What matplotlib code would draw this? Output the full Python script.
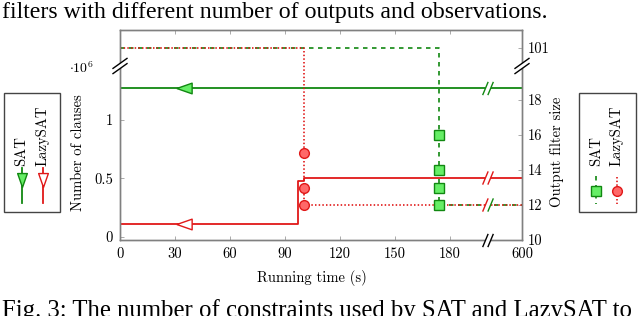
import numpy as np
import matplotlib
matplotlib.use("Agg")
import matplotlib.pyplot as plt
from matplotlib.lines import Line2D
from matplotlib.patches import Rectangle, Polygon

plt.rcParams['font.family'] = 'cmr10'
plt.rcParams['mathtext.fontset'] = 'cm'
plt.rcParams['axes.unicode_minus'] = False

# data: running time (s), number of clauses (x1e6), output filter size
sat_clause_t = [0, 174, 174, 600]
sat_clause_v = [1.27, 1.27, 1.276, 1.276]
lazy_clause_t = [0, 97, 97, 100.5, 100.5, 600]
lazy_clause_v = [0.108, 0.108, 0.48, 0.48, 0.505, 0.505]

sat_filter_t = [0, 173.8, 173.8, 173.8, 173.8, 173.8, 600]
sat_filter_v = [101, 101, 16, 14, 13, 12, 12]
sat_mark_v = [16, 14, 13, 12]
lazy_filter_t = [0, 100.5, 100.5, 100.5, 100.5, 600]
lazy_filter_v = [101, 101, 15, 13, 12, 12]
lazy_mark_v = [15, 13, 12]

x_ticks = [0, 30, 60, 90, 120, 150, 180, 600]
left_ticks = [0, 0.5, 1]
left_labels = ["0", "0.5", "1"]
right_ticks = [10, 12, 14, 16, 18, 101]

green = "#118811"
green_fill = "#66ee66"
red = "#e01818"
red_fill = "#ff6868"
grey = "#808080"
fs = 10.5

W, H = 640, 316
def fx(x):
    return x / W
def fy(y):
    return 1 - y / H

# broken x axis: 600 s drawn at 219.3
def xmap(t):
    t = np.asarray(t, float)
    return np.where(t <= 200, t, 200 + (t - 200) * 19.3 / 400)

# broken right axis: 101 drawn at 21
def ymap(v):
    v = np.asarray(v, float)
    return np.where(v > 50, v - 80, v)

fig = plt.figure(figsize=(6.4, 3.16), dpi=100)
ax = fig.add_axes([fx(120), fy(240), (522 - 120) / W, (240 - 30) / H])
ax2 = ax.twinx()

ax.set_xlim(0, 219.3)
ax.set_ylim(-0.0256, 1.769)
ax2.set_ylim(10, 22)

# clauses (left axis)
ax.plot(xmap(sat_clause_t), sat_clause_v, color=green, lw=1.3)
ax.plot(xmap(lazy_clause_t), lazy_clause_v, color=red, lw=1.3)
tri_left = [(-1, 0), (1, 0.7), (1, -0.7), (-1, 0)]
ax.plot([35], [np.interp(35, sat_clause_t, sat_clause_v)], marker=tri_left, ms=11,
        mfc=green_fill, mec=green, mew=1.0, ls="none")
ax.plot([35], [np.interp(35, lazy_clause_t, lazy_clause_v)], marker=tri_left, ms=11,
        mfc="white", mec=red, mew=1.0, ls="none")

# output filter size (right axis)
ax2.plot(xmap(sat_filter_t), ymap(sat_filter_v), color=green, lw=1.2, dashes=(2.7, 2.7))
ax2.plot(xmap(lazy_filter_t), ymap(lazy_filter_v), color=red, lw=1.2, dashes=(0.9, 1.3))
ax2.plot(xmap([173.8] * len(sat_mark_v)), sat_mark_v, marker="s", ms=7, ls="none",
         mfc=green_fill, mec=green, mew=1.0)
ax2.plot(xmap([100.5] * len(lazy_mark_v)), lazy_mark_v, marker="o", ms=7, ls="none",
         mfc=red_fill, mec=red, mew=1.0)

ax.set_xticks(xmap(x_ticks))
ax.set_xticklabels([str(t) for t in x_ticks])
ax.set_yticks(left_ticks)
ax.set_yticklabels(left_labels)
ax2.set_yticks(ymap(right_ticks))
ax2.set_yticklabels([str(t) for t in right_ticks])

for a in (ax, ax2):
    for s in a.spines.values():
        s.set_color(grey)
        s.set_linewidth(1.0)
ax.tick_params(direction="in", length=3, width=0.7, color="#aaaaaa", labelsize=fs,
               top=True, right=False, pad=5)
ax.tick_params(axis="x", pad=5)
ax2.tick_params(direction="in", length=3, width=0.7, color="#aaaaaa", labelsize=fs, pad=4)

fig.text(fx(78), fy(153), "Number of clauses", rotation=90, ha="center", va="center", fontsize=fs)
fig.text(fx(557), fy(152), "Output filter size", rotation=90, ha="center", va="center", fontsize=fs)
fig.text(fx(312), fy(278), "Running time (s)", ha="center", va="center", fontsize=fs)
fig.text(fx(69), fy(68), r"$\cdot10^{6}$", ha="left", va="center", fontsize=10)


def brk(x, y, color, steep=True, color2=None):
    # two parallel slashes with a white gap, in image pixels
    if steep:
        a, b, d = 2.5, 6, (2.6, 0)
    else:
        a, b, d = 7, 5, (0, 2.6)
    p1 = [(x - a - d[0], y + b - d[1]), (x + a - d[0], y - b - d[1])]
    p2 = [(x - a + d[0], y + b + d[1]), (x + a + d[0], y - b + d[1])]
    poly = Polygon([(fx(px), fy(py)) for px, py in [p1[0], p1[1], p2[1], p2[0]]],
                   closed=True, fc="white", ec="none", transform=fig.transFigure, zorder=10)
    fig.add_artist(poly)
    for p, c in ((p1, color), (p2, color2 or color)):
        fig.add_artist(Line2D([fx(p[0][0]), fx(p[1][0])], [fy(p[0][1]), fy(p[1][1])],
                              color=c, lw=1.0, transform=fig.transFigure, zorder=11))


brk(488, 88.5, green)
brk(488, 178, red)
brk(488, 205, red, color2=green)
brk(488, 240.5, "black")
brk(120, 66, "black", steep=False)
brk(522, 66, "black", steep=False)

# left legend (rotated)
fig.add_artist(Rectangle((fx(4), fy(212)), 56 / W, (212 - 93) / H, fill=False,
                         ec="#444444", lw=1.0, transform=fig.transFigure))
tri_down = [(0, -1), (0.7, 1), (-0.7, 1), (0, -1)]
for xp, lab, c, fc in ((21.7, "SAT", green, green_fill), (42.7, "LazySAT", red, "white")):
    fig.text(fx(xp), fy(166), lab, rotation=90, ha="center", va="bottom", fontsize=fs)
    fig.add_artist(Line2D([fx(xp), fx(xp)], [fy(168), fy(203)], color=c, lw=1.3,
                          transform=fig.transFigure))
    fig.add_artist(Line2D([fx(xp)], [fy(180)], marker=tri_down, ms=10, mfc=fc, mec=c,
                          mew=1.0, ls="none", transform=fig.transFigure))

# right legend (rotated)
fig.add_artist(Rectangle((fx(579), fy(212)), 57 / W, (212 - 93) / H, fill=False,
                         ec="#444444", lw=1.0, transform=fig.transFigure))
fig.text(fx(596), fy(166), "SAT", rotation=90, ha="center", va="bottom", fontsize=fs)
fig.text(fx(617), fy(166), "LazySAT", rotation=90, ha="center", va="bottom", fontsize=fs)
fig.add_artist(Line2D([fx(596), fx(596)], [fy(176), fy(204)], color=green, lw=1.2,
                      dashes=(2.7, 2.7), transform=fig.transFigure))
fig.add_artist(Line2D([fx(596)], [fy(191)], marker="s", ms=7, mfc=green_fill, mec=green,
                      mew=1.0, ls="none", transform=fig.transFigure))
fig.add_artist(Line2D([fx(617), fx(617)], [fy(177), fy(204)], color=red, lw=1.2,
                      dashes=(0.9, 1.3), transform=fig.transFigure))
fig.add_artist(Line2D([fx(617)], [fy(190.5)], marker="o", ms=7, mfc=red_fill, mec=red,
                      mew=1.0, ls="none", transform=fig.transFigure))

# surrounding caption text from the page
fig.text(fx(2), fy(18), "filters with different number of outputs and observations.",
         family="Liberation Serif", fontsize=17.2, ha="left", va="baseline")
fig.text(fx(2), fy(316.5), "Fig. 3: The number of constraints used by SAT and LazySAT to",
         family="Liberation Serif", fontsize=17.8, ha="left", va="baseline")

fig.savefig("out.png", dpi=100)
